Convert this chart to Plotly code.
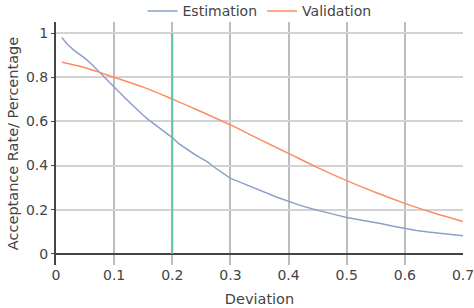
import plotly.graph_objects as go

est_x = [0.01, 0.02, 0.03, 0.04, 0.05, 0.06, 0.07, 0.08, 0.09, 0.10,
         0.11, 0.12, 0.13, 0.14, 0.15, 0.16, 0.17, 0.18, 0.19, 0.20,
         0.21, 0.22, 0.23, 0.24, 0.25, 0.26, 0.27, 0.28, 0.29, 0.30,
         0.31, 0.32, 0.33, 0.34, 0.35, 0.36, 0.37, 0.38, 0.39, 0.40,
         0.42, 0.44, 0.46, 0.48, 0.50, 0.52, 0.54, 0.56, 0.58, 0.60,
         0.62, 0.64, 0.66, 0.68, 0.70]
est_y = [0.98, 0.948, 0.924, 0.905, 0.885, 0.862, 0.835, 0.808, 0.785, 0.756,
         0.73, 0.703, 0.678, 0.652, 0.628, 0.606, 0.586, 0.565, 0.548, 0.527,
         0.502, 0.483, 0.465, 0.448, 0.433, 0.418, 0.397, 0.379, 0.36, 0.342,
         0.332, 0.321, 0.31, 0.299, 0.289, 0.278, 0.267, 0.257, 0.248, 0.238,
         0.22, 0.205, 0.19, 0.178, 0.165, 0.156, 0.148, 0.137, 0.125, 0.114,
         0.106, 0.099, 0.093, 0.087, 0.082]

val_x = [0.01, 0.05, 0.10, 0.15, 0.20, 0.25, 0.30, 0.35, 0.40, 0.45,
         0.50, 0.55, 0.60, 0.65, 0.70]
val_y = [0.868, 0.843, 0.80, 0.755, 0.701, 0.644, 0.584, 0.519, 0.455, 0.391,
         0.332, 0.278, 0.229, 0.185, 0.147]

x_ticks = [0, 0.1, 0.2, 0.3, 0.4, 0.5, 0.6, 0.7]
x_ticktext = ["0", "0.1", "0.2", "0.3", "0.4", "0.5", "0.6", "0.7"]
y_ticks = [0, 0.2, 0.4, 0.6, 0.8, 1]

threshold_x = [0.2, 0.2]
threshold_y = [0, 1]

fig = go.Figure()
fig.add_trace(go.Scatter(x=est_x, y=est_y, mode="lines", name="Estimation",
                         line=dict(color="#8da0cb", width=1.5)))
fig.add_trace(go.Scatter(x=val_x, y=val_y, mode="lines", name="Validation",
                         line=dict(color="#fc8d62", width=1.5, shape="spline")))
fig.add_trace(go.Scatter(x=threshold_x, y=threshold_y, mode="lines", showlegend=False,
                         line=dict(color="#66c2a5", width=2)))

fam = "DejaVu Sans, Verdana, sans-serif"
fig.update_layout(
    width=474, height=308,
    margin=dict(l=56, r=11, t=22, b=43, autoexpand=False),
    paper_bgcolor="white", plot_bgcolor="white",
    font=dict(family=fam, size=14, color="#444"),
    legend=dict(orientation="h", x=0.5, xanchor="center", y=0.978, yanchor="bottom",
                font=dict(family=fam, size=14, color="#444"),
                bgcolor="rgba(0,0,0,0)"),
    xaxis=dict(title=dict(text="Deviation", standoff=11, font=dict(family=fam, size=14.5)),
               range=[0, 0.7], tickvals=x_ticks, ticktext=x_ticktext,
               tickfont=dict(family=fam, size=14), ticklabeloverflow="allow",
               showgrid=True, gridcolor="#bdbdbd", gridwidth=2, zeroline=False,
               showline=False, ticks="", automargin=False),
    yaxis=dict(title=dict(text="Acceptance Rate/ Percentage", standoff=4,
                          font=dict(family=fam, size=14.5)),
               range=[-0.05, 1.05], tickvals=y_ticks,
               tickfont=dict(family=fam, size=14),
               ticks="outside", ticklen=3, tickcolor="#444", tickwidth=1,
               showgrid=True, gridcolor="#d3d3d3", gridwidth=2,
               zeroline=True, zerolinecolor="#444", zerolinewidth=2,
               showline=True, linecolor="#444", linewidth=2, automargin=False),
)

fig.write_html("out.html", config={"displayModeBar": False},
               post_script="document.body.style.margin='0';")
